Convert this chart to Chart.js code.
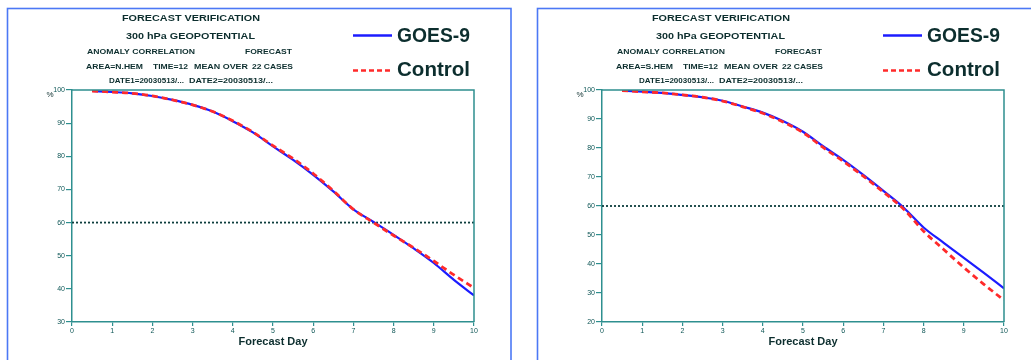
<!DOCTYPE html>
<html>
<head>
<meta charset="utf-8">
<script src="https://cdn.jsdelivr.net/npm/chart.js@4.4.1/dist/chart.umd.min.js"></script>
<style>
  html, body { margin: 0; padding: 0; background: #fff; overflow: hidden; width: 1031px; height: 360px; }
  .panel { position: absolute; top: 0; width: 530px; height: 360px; }
</style>
</head>
<body>
<div class="panel" style="left:0"><canvas id="nh" width="530" height="360"></canvas></div>
<div class="panel" style="left:530px"><canvas id="sh" width="530" height="360"></canvas></div>
<script>
// Forecast lead time (days) of each verification point
const forecastDays = [0.5, 1, 1.5, 2, 2.5, 3, 3.5, 4, 4.5, 5, 5.5, 6, 6.5, 7, 7.5, 8, 8.5, 9, 9.5, 10];

// 300 hPa geopotential anomaly correlation (%), Northern Hemisphere
const nhGoes9   = [99.7, 99.4, 99.0, 98.2, 97.0, 95.5, 93.5, 90.6, 87.2, 83.0, 78.9, 74.4, 69.4, 64.0, 60.2, 56.3, 52.2, 47.8, 42.7, 38.0];
const nhControl = [99.7, 99.4, 99.0, 98.2, 97.0, 95.5, 93.5, 90.7, 87.3, 83.2, 79.3, 74.8, 69.6, 64.0, 60.0, 56.1, 52.4, 48.4, 44.2, 40.3];

// 300 hPa geopotential anomaly correlation (%), Southern Hemisphere
const shGoes9   = [99.8, 99.4, 99.0, 98.3, 97.5, 96.3, 94.3, 92.2, 89.3, 85.6, 80.6, 75.9, 70.7, 65.2, 59.5, 52.6, 47.3, 42.1, 36.9, 31.6];
const shControl = [99.8, 99.4, 99.0, 98.3, 97.5, 96.2, 94.2, 92.0, 89.0, 85.3, 80.2, 75.4, 70.3, 64.8, 59.0, 51.3, 45.0, 38.8, 33.0, 27.5];

// Axis ranges and the skill threshold
const xRange = [0, 10];
const nhYRange = [30, 100];
const shYRange = [20, 100];
const skillThreshold = 60;

// Header text
const titleLines = ['FORECAST VERIFICATION', '300 hPa GEOPOTENTIAL'];
const seriesNames = ['GOES-9', 'Control'];
const nhArea = 'AREA=N.HEM';
const shArea = 'AREA=S.HEM';

const FAMILY = '"Liberation Sans", Arial, Helvetica, sans-serif';
const TEXT = '#0c2e2e';
const AXIS = '#2e8f8f';
const TICK_TEXT = '#0e5656';
const BLUE = '#1c1cff';
const RED = '#ff2a2a';

function pts(values) {
  return forecastDays.map((d, i) => ({ x: d, y: values[i] }));
}

// Draw a string stretched to span [x0, x1], vertically centred on y
function fitText(ctx, str, x0, x1, y, font) {
  ctx.font = font;
  const w = ctx.measureText(str).width;
  ctx.save();
  ctx.translate(x0, y);
  ctx.scale((x1 - x0) / w, 1);
  ctx.textAlign = 'left';
  ctx.textBaseline = 'middle';
  ctx.fillText(str, 0, 0);
  ctx.restore();
}

function decorations(area) {
  return {
    id: 'decorations',
    beforeDraw(chart) {
      const ctx = chart.ctx;
      ctx.save();
      ctx.fillStyle = '#fff';
      ctx.fillRect(0, 0, chart.width, chart.height);
      // panel frame
      ctx.strokeStyle = '#4c78f5';
      ctx.lineWidth = 1.6;
      ctx.strokeRect(7.5, 8.5, 503.5, 380);
      ctx.restore();
    },
    afterDraw(chart) {
      const ctx = chart.ctx;
      const ca = chart.chartArea;
      ctx.save();
      // top and right edges of the plot box
      ctx.strokeStyle = AXIS;
      ctx.lineWidth = 1.5;
      ctx.beginPath();
      ctx.moveTo(ca.left, ca.top);
      ctx.lineTo(ca.right, ca.top);
      ctx.lineTo(ca.right, ca.bottom);
      ctx.stroke();

      // header block
      ctx.fillStyle = TEXT;
      fitText(ctx, titleLines[0], 122, 260, 18, 'bold 9.5px ' + FAMILY);
      fitText(ctx, titleLines[1], 126, 255, 36, 'bold 9.5px ' + FAMILY);
      const small = 'bold 7.5px ' + FAMILY;
      fitText(ctx, 'ANOMALY CORRELATION', 87, 195, 52, small);
      fitText(ctx, 'FORECAST', 245, 292, 52, small);
      fitText(ctx, area, 86, 143, 67, small);
      fitText(ctx, 'TIME=12', 153, 188, 67, small);
      fitText(ctx, 'MEAN OVER', 194, 248, 67, small);
      fitText(ctx, '22 CASES', 252, 293, 67, small);
      fitText(ctx, 'DATE1=20030513/...', 109, 184, 81, small);
      fitText(ctx, 'DATE2=20030513/...', 189, 273, 81, small);

      // legend
      ctx.lineWidth = 2.4;
      ctx.strokeStyle = BLUE;
      ctx.beginPath(); ctx.moveTo(353, 35.5); ctx.lineTo(392, 35.5); ctx.stroke();
      ctx.strokeStyle = RED;
      ctx.lineWidth = 2.6;
      ctx.setLineDash([5, 3]);
      ctx.beginPath(); ctx.moveTo(353, 70.5); ctx.lineTo(392, 70.5); ctx.stroke();
      ctx.setLineDash([]);
      ctx.fillStyle = TEXT;
      fitText(ctx, seriesNames[0], 397, 470, 36, 'bold 20px ' + FAMILY);
      fitText(ctx, seriesNames[1], 397, 470, 70.5, 'bold 20px ' + FAMILY);

      // unit marker and axis title
      ctx.fillStyle = TEXT;
      ctx.font = '8px ' + FAMILY;
      ctx.textAlign = 'center';
      ctx.textBaseline = 'middle';
      ctx.fillText('%', 50, 95);
      ctx.font = 'bold 11px ' + FAMILY;
      ctx.fillText('Forecast Day', (ca.left + ca.right) / 2, 342);
      ctx.restore();
    }
  };
}

function makeChart(id, goes, control, yRange, area) {
  return new Chart(document.getElementById(id), {
    type: 'line',
    data: {
      datasets: [
        {
          label: seriesNames[1],
          data: pts(control),
          borderColor: RED,
          borderWidth: 2.8,
          borderDash: [6, 4],
          pointRadius: 0,
          cubicInterpolationMode: 'monotone',
          order: 0
        },
        {
          label: seriesNames[0],
          data: pts(goes),
          borderColor: BLUE,
          borderWidth: 2.2,
          pointRadius: 0,
          cubicInterpolationMode: 'monotone',
          order: 1
        },
        {
          label: 'threshold',
          data: [{ x: xRange[0], y: skillThreshold }, { x: xRange[1], y: skillThreshold }],
          borderColor: '#0d3d3d',
          borderWidth: 1.8,
          borderDash: [2, 2],
          pointRadius: 0,
          order: 2
        }
      ]
    },
    options: {
      responsive: false,
      devicePixelRatio: 1,
      animation: false,
      layout: { padding: { left: 20, right: 56, top: 90, bottom: 10 } },
      plugins: { legend: { display: false }, title: { display: false }, tooltip: { enabled: false } },
      scales: {
        x: {
          type: 'linear',
          min: xRange[0],
          max: xRange[1],
          ticks: { stepSize: 1, color: TICK_TEXT, font: { size: 7, family: FAMILY }, padding: 1, maxRotation: 0, autoSkip: false },
          grid: { drawOnChartArea: false, tickLength: 4, color: AXIS, lineWidth: 1.2 },
          border: { color: AXIS, width: 1.5 },
          afterFit(scale) { scale.height = 28; }
        },
        y: {
          type: 'linear',
          min: yRange[0],
          max: yRange[1],
          ticks: { stepSize: 10, color: TICK_TEXT, font: { size: 7, family: FAMILY }, padding: 1 },
          grid: { drawOnChartArea: false, tickLength: 6, color: AXIS, lineWidth: 1.2 },
          border: { color: AXIS, width: 1.5 },
          afterFit(scale) { scale.width = 52; }
        }
      }
    },
    plugins: [decorations(area)]
  });
}

makeChart('nh', nhGoes9, nhControl, nhYRange, nhArea);
makeChart('sh', shGoes9, shControl, shYRange, shArea);
</script>
</body>
</html>
